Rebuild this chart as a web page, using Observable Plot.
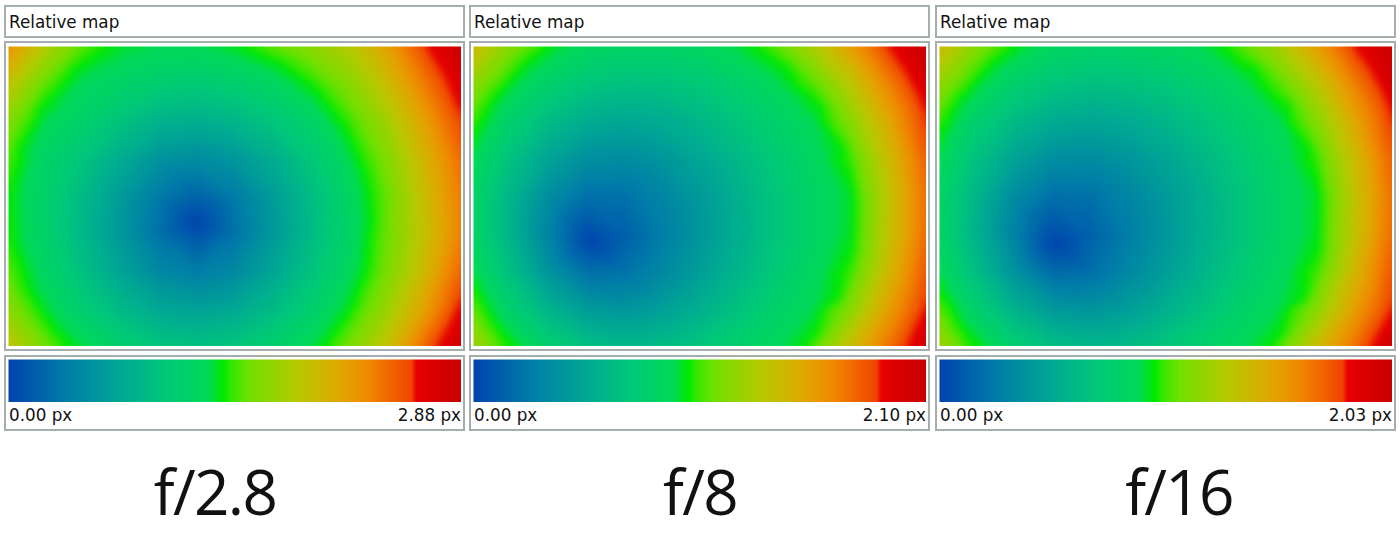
<!DOCTYPE html>
<html><head><meta charset="utf-8">
<script src="https://cdn.jsdelivr.net/npm/d3@7"></script>
<script src="https://cdn.jsdelivr.net/npm/@observablehq/plot@0.6"></script>
<style>
html,body{margin:0;padding:0;background:#fff}
#root{position:relative;width:1400px;height:550px;overflow:hidden;font-family:"DejaVu Sans",sans-serif;color:#111}
.box{position:absolute;box-sizing:border-box;border:2px solid #a4aeae;background:#fff}
.lab{position:absolute;font-size:16.8px;line-height:24px;white-space:nowrap}
.big{position:absolute;font-size:62px;line-height:80px;letter-spacing:-1.7px;white-space:nowrap;transform:translateX(-50%);font-family:"Open Sans",sans-serif;color:#111}
.plot{position:absolute}
.plot svg{display:block}
</style></head><body><div id="root"></div>
<script>
const apertures = ["f/2.8","f/8","f/16"];
const maxLabels = ["2.88 px","2.10 px","2.03 px"];
const minLabel = "0.00 px";
const titleText = "Relative map";

// Level of each map on a 13 x 9 sampling of the 453 x 300 frame, in % of that map's maximum
const map28 = [
 [78,63,51,46,44,44,46.5,52,57,63,74,88.5,100],
 [66,51.5,43,40,37,36,38,41.4,47.5,56,67,81,94],
 [56,44,39,33,28,27,29,34,40,49,60,74,89],
 [50.5,40,33.5,26,19,17,20,26.5,34.5,44,55,69.5,84],
 [47.5,39,30,21,12,7,12.5,21.5,31,41,52,67,81.5],
 [48,39,29.5,20,10,3,10.5,20.5,30.5,40.5,52.5,66,81],
 [51.5,41,32,23.5,16,13,16.5,24,33,42.5,54,68.5,85],
 [57,45.5,37,30,24.5,23,25,30.5,38,46.5,59,74,92],
 [66,53.5,45,38,34,32.5,34.5,38.5,44.5,54,66,84,98]
];
const map8 = [
 [69,56,47,42.5,40.5,40.4,42,45,51.5,62,75,89.6,100],
 [57.7,46,38.6,34.3,32.5,33,35.3,38.9,43.4,51,64.7,80.2,96.5],
 [49.5,38.5,30.9,26.2,24.7,26.1,29.3,33.8,39,44,56.2,72.8,89.9],
 [44.5,32.7,23.6,18,17.1,19.8,24.3,29.8,35.8,42.1,49.4,67.8,85.5],
 [41.5,28.7,17.3,9.9,10.2,15,20.9,27.3,34,40.8,46,65.4,83.5],
 [41.6,28,14.6,2,6.2,13.1,20,26.8,33.8,40.8,46.2,65.8,83.9],
 [44.7,31.5,19.1,9.9,10.3,15.8,22.1,28.7,35.5,42.4,49.5,69,86.7],
 [52,38.4,28.1,21.2,19.6,22.4,27.2,32.9,39.1,44.3,56.5,74.8,90.5],
 [60.9,48,38.5,32.5,30.2,31.2,34.4,39,43,51,67.8,82.9,98.8]
];
const map16 = [
 [69,56,47,42,40.2,40.2,41.8,44.6,51.2,61.5,75,90,100],
 [58,46,38.2,34,32.2,32.8,35,38.6,43.2,50.8,64.5,80.5,97],
 [49.5,38,30.4,25.8,24.5,25.8,29,33.6,38.8,44,56,73,90],
 [44.5,32.4,23.2,17.6,17,19.6,24,29.6,35.6,42,49.3,67.8,85.5],
 [41.5,28.4,16.8,9.6,10.2,15,20.8,27.2,34,40.8,46,65.6,83.5],
 [41.4,27.6,14,2.5,6.4,13.2,20.2,27,34,41,46.2,66,84],
 [44.4,31,18.6,8.5,9.6,15.6,22,28.8,35.6,42.6,49.6,69.4,87],
 [51.6,38,27.6,20.6,19.2,22.2,27.2,33,39.4,44.5,56.8,75,90],
 [60.5,47.8,38.2,32,29.8,31,34.4,39.2,43.2,51.2,68,83,99]
];
// Frame position [x, y] of the minimum in each map
const minima = [[187,176],[117,194],[115,196]];
const green28 = [[99,0],[66,22],[34,58],[11.5,100],[1,147],[3,196],[18,241],[44,282],[60,300],[235,0],[271,16],[310,45],[339,84],[358,129],[364,177],[358,225],[339,269],[317,300]];
const green8 = [[74,0],[53,15],[19,52],[0,87],[0,240],[19,275],[35,300],[282,0],[313,21],[347,59],[370,104],[381,153],[379,204],[364,252],[341,289],[332,300]];
const green16 = [[74,0],[53,15],[19,52],[0,87],[0,244],[19,278],[34,300],[285,0],[315,22],[348,60],[370,104],[381,153],[379,204],[364,252],[341,289],[332,300]];
const red28 = [[419,0],[437,30],[453,67],[429,300],[443,275],[453,254]];
const red8 = [[415,0],[431,22],[445,48],[453,67],[434,300],[445,276],[453,257]];
const red16 = [[415,0],[431,22],[445,48],[453,69],[432,300],[444,278],[453,261]];
const greenLevel = 47.5;
const redLevel = 90;

const levelStops = [0,13,26.5,35,44,45.5,47.5,49,53,64,73,79.5,89,90,100];
const levelColors = ["#0044ae","#007ea8","#00ae90","#00c878","#00da58","#00e030","#00e800","#30e800","#70e000","#b8c800","#e0a800","#f08800","#f04400","#e80000","#c80000"];

const color = {type:"linear",domain:levelStops,range:levelColors,clamp:true};
const root = document.getElementById("root");
function box(x,y,w,h){const d=document.createElement("div");d.className="box";Object.assign(d.style,{left:x+"px",top:y+"px",width:w+"px",height:h+"px"});root.append(d);return d;}
function text(cls,s,x,y,right){const d=document.createElement("div");d.className=cls;d.textContent=s;d.style.top=y+"px";if(right!==undefined)d.style.right=(1400-right)+"px";else d.style.left=x+"px";root.append(d);return d;}
function place(svg,x,y){const d=document.createElement("div");d.className="plot";d.style.left=x+"px";d.style.top=y+"px";d.append(svg);root.append(d);}

const maps=[map28,map8,map16];
const greens=[green28,green8,green16];
const reds=[red28,red8,red16];
const panelLeft=[4,469,935];
const bigCenter=[215,700,1179];

maps.forEach((grid,i)=>{
  const L=panelLeft[i];
  box(L,5,461,33); box(L,41,461,310); box(L,355,461,76);
  text("lab",titleText,L+5,10);
  const pts=grid.flatMap((row,r)=>row.map((v,c)=>({x:c*453/12,y:r*300/8,v})));
  pts.push({x:minima[i][0],y:minima[i][1],v:0});
  greens[i].forEach(([x,y])=>pts.push({x,y,v:greenLevel}));
  reds[i].forEach(([x,y])=>pts.push({x,y,v:redLevel}));
  place(Plot.plot({
    width:453,height:300,margin:0,
    x:{domain:[0,453],axis:null},
    y:{domain:[0,300],range:[0,300],axis:null},
    color,
    marks:[Plot.raster(pts,{x:"x",y:"y",fill:"v",interpolate:"barycentric",x1:0,x2:453,y1:0,y2:300,blur:3})]
  }),L+4,46);
  place(Plot.plot({
    width:453,height:43,margin:0,
    x:{domain:[0,100],axis:null},
    y:{domain:[0,1],axis:null},
    color,
    marks:[Plot.raster({fill:(x,y)=>x,x1:0,x2:100,y1:0,y2:1})]
  }),L+4,359);
  text("lab",minLabel,L+5,403);
  text("lab",maxLabels[i],0,403,L+457);
  text("big",apertures[i],bigCenter[i],451);
});
</script></body></html>
